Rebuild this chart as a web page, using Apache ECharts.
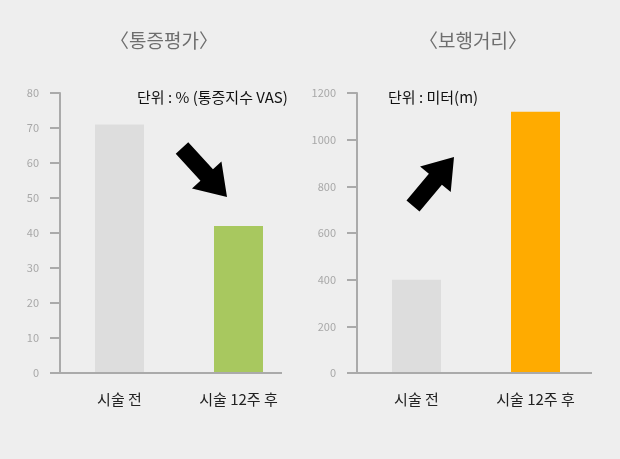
<!DOCTYPE html>
<html><head><meta charset="utf-8">
<script src="https://cdn.jsdelivr.net/npm/echarts@6/dist/echarts.min.js"></script>
<style>html,body{margin:0;padding:0;background:#eeeeee;}#c{width:620px;height:459px;}</style>
</head><body><div id="c"></div>
<script>
const categories = ['시술 전', '시술 12주 후'];
const painValues = [71, 42];
const walkValues = [400, 1120];
const painTitle = '〈통증평가〉';
const walkTitle = '〈보행거리〉';
const painUnit = '단위 : % (통증지수 VAS)';
const walkUnit = '단위 : 미터(m)';

const FONT = '"Noto Sans CJK KR", "Noto Sans", sans-serif';
const chart = echarts.init(document.getElementById('c'), null, {renderer: 'canvas'});

function arrow(tail, tip, shaftHalf, headHalf, headLen) {
  const dx = tip[0] - tail[0], dy = tip[1] - tail[1];
  const L = Math.hypot(dx, dy);
  const ux = dx / L, uy = dy / L, nx = -uy, ny = ux;
  const bx = tip[0] - ux * headLen, by = tip[1] - uy * headLen;
  return [
    [tail[0] + nx * shaftHalf, tail[1] + ny * shaftHalf],
    [bx + nx * shaftHalf, by + ny * shaftHalf],
    [bx + nx * headHalf, by + ny * headHalf],
    tip,
    [bx - nx * headHalf, by - ny * headHalf],
    [bx - nx * shaftHalf, by - ny * shaftHalf],
    [tail[0] - nx * shaftHalf, tail[1] - ny * shaftHalf]
  ];
}

const yAxisCommon = {
  type: 'value',
  axisLine: {show: true, lineStyle: {color: '#aaaaaa', width: 2}},
  axisTick: {show: true, length: 10, lineStyle: {color: '#aaaaaa', width: 2}},
  splitLine: {show: false},
  axisLabel: {color: '#a8a8a8', fontSize: 11, fontFamily: FONT, margin: 21,
              formatter: v => String(v)}
};
const xAxisCommon = {
  type: 'category',
  data: categories,
  axisLine: {show: false},
  axisTick: {show: false},
  axisLabel: {color: '#222222', fontSize: 15, fontFamily: FONT, margin: 19}
};

chart.setOption({
  backgroundColor: '#eeeeee',
  animation: false,
  title: [
    {text: painTitle, left: 159, top: 26, textAlign: 'center',
     textStyle: {color: '#6e6e6e', fontSize: 19, fontWeight: 'normal', fontFamily: FONT}},
    {text: walkTitle, left: 468, top: 26, textAlign: 'center',
     textStyle: {color: '#6e6e6e', fontSize: 19, fontWeight: 'normal', fontFamily: FONT}}
  ],
  grid: [
    {left: 60, top: 93, width: 238, height: 280},
    {left: 357, top: 93, width: 238, height: 280}
  ],
  xAxis: [
    Object.assign({gridIndex: 0}, xAxisCommon),
    Object.assign({gridIndex: 1}, xAxisCommon)
  ],
  yAxis: [
    Object.assign({gridIndex: 0, min: 0, max: 80, interval: 10}, yAxisCommon),
    Object.assign({gridIndex: 1, min: 0, max: 1200, interval: 200}, yAxisCommon)
  ],
  series: [
    {type: 'bar', xAxisIndex: 0, yAxisIndex: 0, barWidth: 49,
     data: painValues.map((v, i) => ({value: v, itemStyle: {color: i === 0 ? '#dddddd' : '#a8c85f'}}))},
    {type: 'bar', xAxisIndex: 1, yAxisIndex: 1, barWidth: 49,
     data: walkValues.map((v, i) => ({value: v, itemStyle: {color: i === 0 ? '#dddddd' : '#ffab00'}}))}
  ],
  graphic: [
    {type: 'line', shape: {x1: 60, y1: 373, x2: 282, y2: 373}, style: {stroke: '#aaaaaa', lineWidth: 2}, z: 10},
    {type: 'line', shape: {x1: 357, y1: 373, x2: 592, y2: 373}, style: {stroke: '#aaaaaa', lineWidth: 2}, z: 10},
    {type: 'text', left: 137, top: 90, style: {text: painUnit, fill: '#111111', font: '15px ' + FONT}},
    {type: 'text', left: 388, top: 90, style: {text: walkUnit, fill: '#111111', font: '15px ' + FONT}},
    {type: 'polygon', shape: {points: arrow([182, 148], [227, 197], 8.5, 20, 30)}, style: {fill: '#000000'}},
    {type: 'polygon', shape: {points: arrow([413, 206], [454, 157], 8.5, 20, 29)}, style: {fill: '#000000'}}
  ]
});
</script></body></html>
